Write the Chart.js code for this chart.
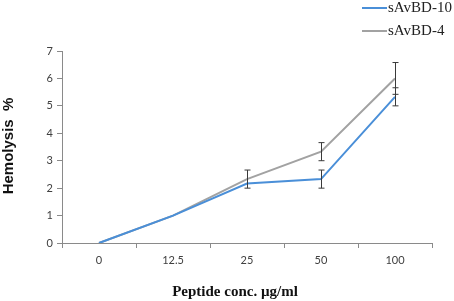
<!DOCTYPE html>
<html>
<head>
<meta charset="utf-8">
<script src="https://cdn.jsdelivr.net/npm/chart.js@4/dist/chart.umd.min.js"></script>
<style>
  html, body { margin: 0; padding: 0; background: #fff; }
  #wrap { width: 454px; height: 301px; position: relative; }
</style>
</head>
<body>
<div id="wrap"><canvas id="chart" width="454" height="301"></canvas></div>
<script>
const categories = ["0", "12.5", "25", "50", "100"];
const seriesNames = ["sAvBD-10", "sAvBD-4"];
const avbd10 = [0, 1, 2.17, 2.33, 5.33];
const avbd4  = [0, 1, 2.33, 3.33, 6.0];
const avbd10Err = [null, null, null, 0.33, 0.33];
const avbd4Err  = [null, null, 0.33, 0.33, 0.58];
const yTicks = [0, 1, 2, 3, 4, 5, 6, 7];

const BLUE = "#4a8fd8";
const GRAY = "#a2a2a2";
const AXIS = "#8a8a8a";
const TICK_TEXT = "#404040";

// error bars, drawn through the scales
const errorBars = {
  id: "errorBars",
  afterDatasetsDraw(chart) {
    const { ctx, scales: { x, y } } = chart;
    const errs = [avbd10Err, avbd4Err];
    ctx.save();
    ctx.strokeStyle = "#3a3a3a";
    ctx.lineWidth = 1;
    chart.data.datasets.forEach((ds, di) => {
      ds.data.forEach((v, i) => {
        const e = errs[di][i];
        if (e == null) return;
        const px = Math.round(x.getPixelForValue(i)) + 0.5;
        const top = y.getPixelForValue(v + e);
        const bot = y.getPixelForValue(v - e);
        ctx.beginPath();
        ctx.moveTo(px, top); ctx.lineTo(px, bot);
        ctx.moveTo(px - 3, top); ctx.lineTo(px + 3, top);
        ctx.moveTo(px - 3, bot); ctx.lineTo(px + 3, bot);
        ctx.stroke();
      });
    });
    ctx.restore();
  }
};

// legend + axis titles
const labels = {
  id: "labels",
  afterDraw(chart) {
    const { ctx } = chart;
    ctx.save();
    const colors = [BLUE, GRAY];
    const ys = [8, 31];
    ctx.font = "15px 'Liberation Serif', 'Times New Roman', serif";
    ctx.textBaseline = "middle";
    seriesNames.forEach((n, i) => {
      ctx.strokeStyle = colors[i];
      ctx.lineWidth = 2;
      ctx.beginPath();
      ctx.moveTo(362, ys[i]); ctx.lineTo(387, ys[i]);
      ctx.stroke();
      ctx.fillStyle = "#222";
      ctx.textAlign = "left";
      ctx.fillText(n, 388, ys[i]);
    });

    ctx.fillStyle = "#111";
    ctx.font = "bold 15px 'Liberation Serif', 'Times New Roman', serif";
    ctx.textAlign = "center";
    ctx.fillText("Peptide conc. µg/ml", 235, 292);

    ctx.translate(9, 146);
    ctx.rotate(-Math.PI / 2);
    ctx.font = "bold 15px 'Liberation Sans', Arial, sans-serif";
    ctx.fillText("Hemolysis  %", 0, 0);
    ctx.restore();
  }
};

new Chart(document.getElementById("chart"), {
  type: "line",
  data: {
    labels: categories,
    datasets: [
      { label: seriesNames[0], data: avbd10, borderColor: BLUE, borderWidth: 2, pointRadius: 0, tension: 0 },
      { label: seriesNames[1], data: avbd4,  borderColor: GRAY, borderWidth: 2, pointRadius: 0, tension: 0 },
    ],
  },
  options: {
    responsive: false,
    animation: false,
    layout: { padding: { top: 51, right: 22, left: 0, bottom: 0 } },
    plugins: { legend: { display: false }, tooltip: { enabled: false } },
    scales: {
      x: {
        offset: true,
        grid: { display: true, drawOnChartArea: false, offset: true, tickLength: 5, color: AXIS },
        border: { color: AXIS, width: 1 },
        ticks: { color: TICK_TEXT, font: { family: "Lato", size: 11 }, padding: 6, maxRotation: 0 },
        afterFit(s) { s.height = 58; },
      },
      y: {
        min: 0, max: 7,
        afterBuildTicks(s) { s.ticks = yTicks.map(v => ({ value: v })); },
        grid: { display: true, drawOnChartArea: false, tickLength: 5, color: AXIS },
        border: { color: AXIS, width: 1 },
        ticks: { color: TICK_TEXT, font: { family: "Lato", size: 11 }, padding: 4 },
        afterFit(s) { s.width = 62; },
      },
    },
  },
  plugins: [errorBars, labels],
});
</script>
</body>
</html>
